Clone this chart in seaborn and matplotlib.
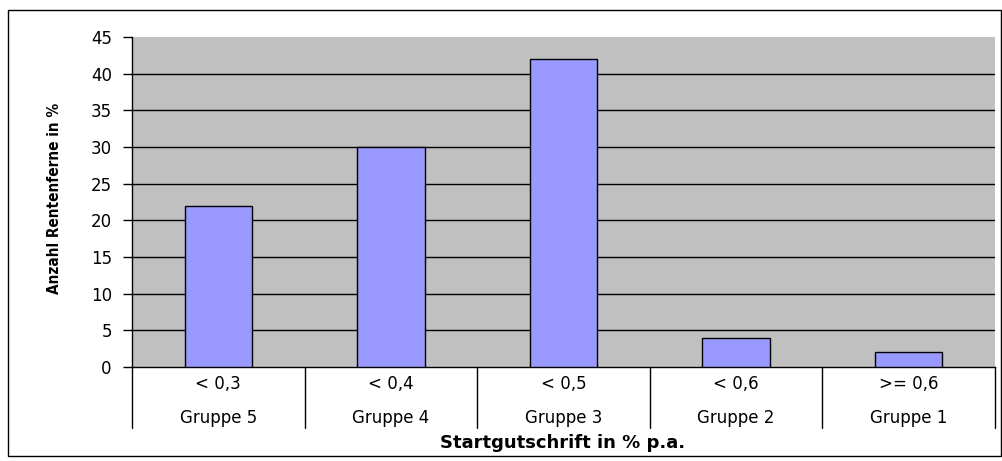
import numpy as np
import pandas as pd
import seaborn as sns
import matplotlib.pyplot as plt
from matplotlib.patches import Rectangle

# data
schwelle = ['< 0,3', '< 0,4', '< 0,5', '< 0,6', '>= 0,6']
gruppe = ['Gruppe 5', 'Gruppe 4', 'Gruppe 3', 'Gruppe 2', 'Gruppe 1']
anteil = [22, 30, 42, 4, 2]

d = pd.DataFrame({'Schwelle': schwelle, 'Gruppe': gruppe, 'Anteil': anteil})

sns.set_style('white')
plt.rcParams['font.family'] = ['DejaVu Sans']
plt.rcParams['text.color'] = 'black'
plt.rcParams['ytick.color'] = 'black'

fig = plt.figure(figsize=(10.02, 4.61), dpi=100)
ax = fig.add_axes([132/1002, 1 - 367/461, (995 - 132)/1002, 330/461])
ax.set_facecolor('#C0C0C0')

sns.barplot(x='Schwelle', y='Anteil', data=d, color='#9999FF', saturation=1,
            width=0.39, edgecolor='black', linewidth=1, ax=ax, zorder=3)

ax.set_ylim(0, 45)
ax.set_xlim(-0.5, 4.5)
ax.set_yticks(np.arange(0, 50, 5))
for v in range(5, 45, 5):
    ax.axhline(v, color='black', lw=1, zorder=1)
ax.tick_params(axis='y', direction='out', length=6.5, width=1, color='black',
               labelsize=12, pad=8, left=True, labelcolor='black')
ax.tick_params(axis='x', length=0, labelbottom=False)
for s in ['top', 'right']:
    ax.spines[s].set_visible(False)
for s in ['left', 'bottom']:
    ax.spines[s].set_color('black')
    ax.spines[s].set_linewidth(1)
ax.set_xlabel('')
ax.set_ylabel('')

# two-row category labels with separators
trans = ax.get_xaxis_transform()
for b in np.arange(-0.5, 5, 1):
    ax.plot([b, b], [0, -0.185], color='black', lw=1, transform=trans, clip_on=False)
for i in range(len(schwelle)):
    ax.text(i, -0.052, schwelle[i], transform=trans, ha='center', va='center', fontsize=12)
    ax.text(i, -0.155, gruppe[i], transform=trans, ha='center', va='center', fontsize=12)

fig.text(563/1002, 1 - 443/461, 'Startgutschrift in % p.a.', ha='center', va='center',
         fontsize=13, fontweight='bold')
fig.text(55/1002, 1 - 198/461, 'Anzahl Rentenferne in %', ha='center', va='center',
         rotation=90, fontsize=11, fontweight='bold', fontstretch='condensed')

fig.patches.append(Rectangle((8/1002, 1 - 456/461), 993/1002, 446/461, transform=fig.transFigure,
                             fill=False, edgecolor='black', lw=1))

plt.savefig('out.png', dpi=100)
